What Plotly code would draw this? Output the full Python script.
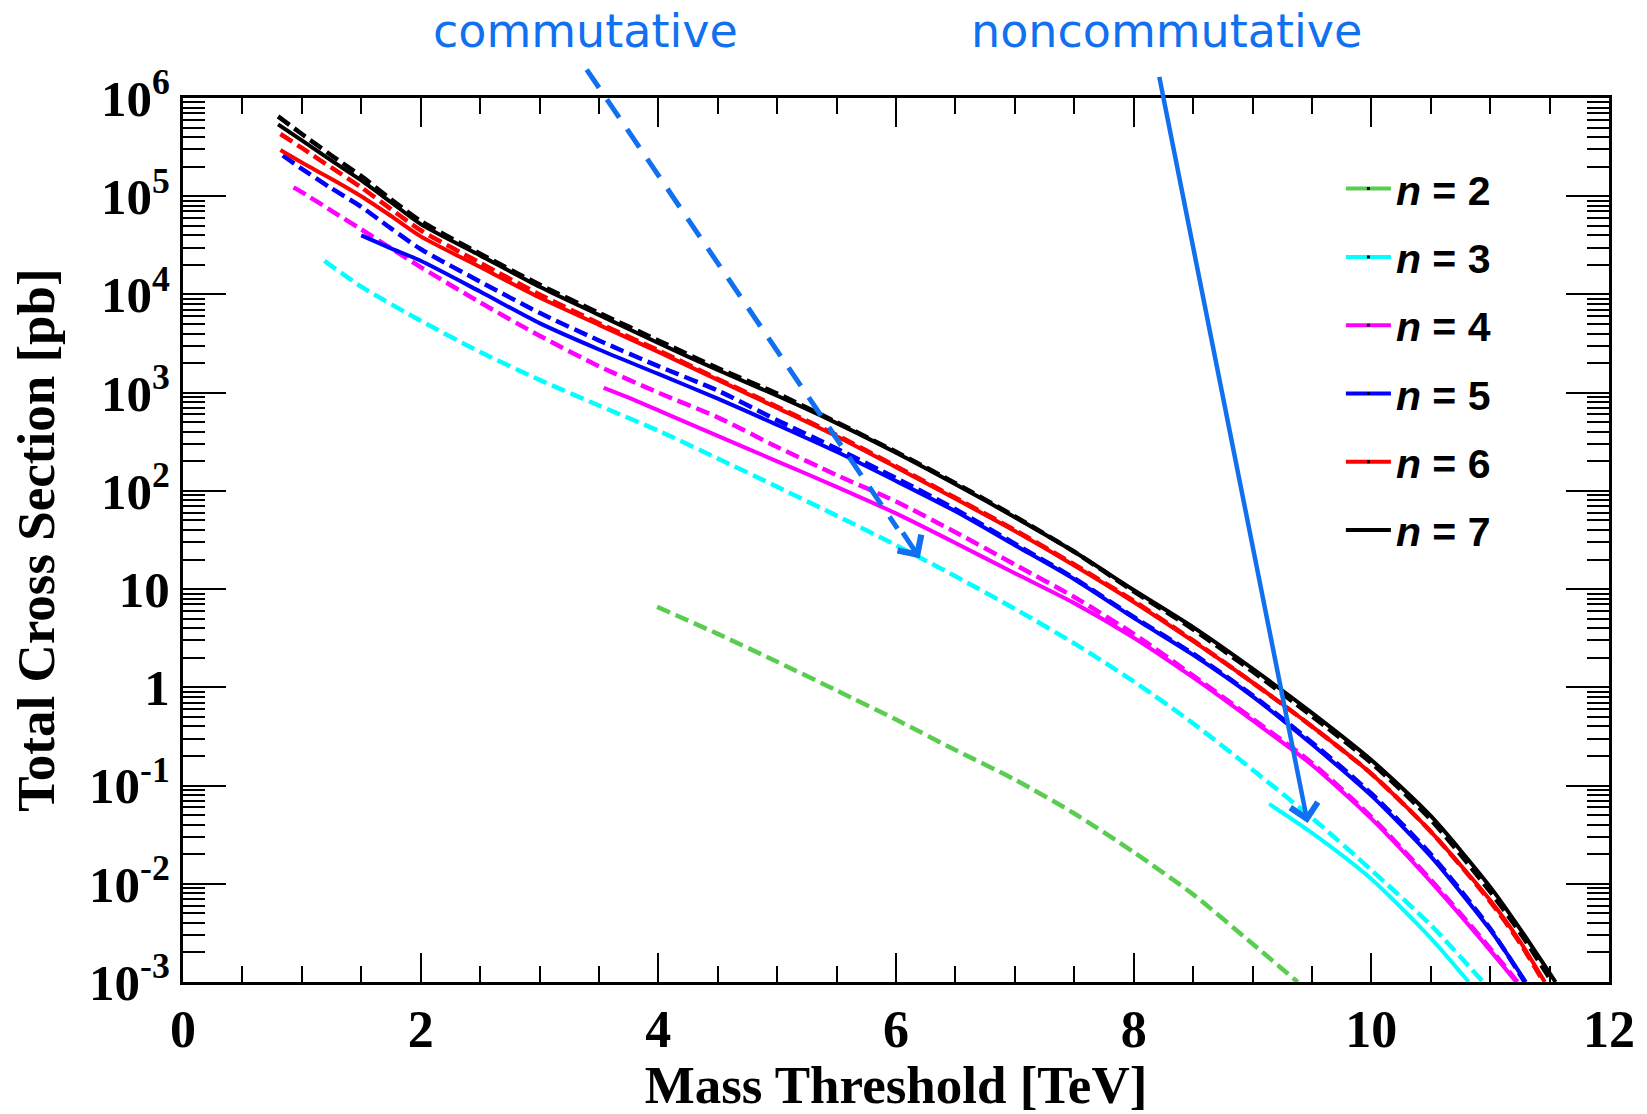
import plotly.graph_objects as go

# ---------------- data (cross sections in pb) ----------------
# n = 7
x_n7_comm = [0.8, 1.0, 1.25, 1.5, 1.75, 2.0, 2.5, 3.0, 3.5, 4.0, 4.5, 5.0, 5.5, 6.0, 6.5, 7.0, 7.5, 8.0, 8.5, 9.0, 9.5, 10.0, 10.5, 11.0, 11.25, 11.52]
y_n7_comm = [6.5e5, 4.3e5, 2.6e5, 1.6e5, 9.3e4, 5.6e4, 2.6e4, 1.26e4, 6.5e3, 3.4e3, 1.78e3, 980, 500, 250, 120, 55, 24, 9.5, 3.9, 1.45, 0.51, 0.17, 0.045, 0.0083, 0.0032, 0.001]
x_n7_nc = [0.8, 1.0, 1.25, 1.5, 1.75, 2.0, 2.5, 3.0, 3.5, 4.0, 4.5, 5.0, 5.5, 6.0, 6.5, 7.0, 7.5, 8.0, 8.5, 9.0, 9.5, 10.0, 10.5, 11.0, 11.25, 11.55]
y_n7_nc = [5.4e5, 3.7e5, 2.3e5, 1.45e5, 8.7e4, 5.2e4, 2.5e4, 1.2e4, 6.2e3, 3.2e3, 1.7e3, 930, 490, 245, 117, 54, 24, 9.8, 4.1, 1.55, 0.55, 0.182, 0.049, 0.0093, 0.0035, 0.001]
# n = 6
x_n6_comm = [0.82, 1.0, 1.25, 1.5, 1.75, 2.0, 2.5, 3.0, 3.5, 4.0, 4.5, 5.0, 5.5, 6.0, 6.5, 7.0, 7.5, 8.0, 8.5, 9.0, 9.5, 10.0, 10.5, 11.0, 11.25, 11.45]
y_n6_comm = [4.3e5, 3.1e5, 1.95e5, 1.23e5, 7.4e4, 4.5e4, 2.1e4, 1.0e4, 5.1e3, 2.7e3, 1.38e3, 720, 370, 178, 85, 40, 17.8, 7.6, 3.0, 1.12, 0.40, 0.132, 0.034, 0.0066, 0.0025, 0.001]
x_n6_nc = [0.82, 1.0, 1.25, 1.5, 1.75, 2.0, 2.5, 3.0, 3.5, 4.0, 4.5, 5.0, 5.5, 6.0, 6.5, 7.0, 7.5, 8.0, 8.5, 9.0, 9.5, 10.0, 10.5, 11.0, 11.25, 11.46]
y_n6_nc = [2.95e5, 2.2e5, 1.5e5, 1.0e5, 6.3e4, 3.9e4, 1.9e4, 9.3e3, 4.9e3, 2.6e3, 1.35e3, 700, 360, 174, 83, 39, 17.4, 7.4, 2.95, 1.12, 0.40, 0.132, 0.034, 0.0068, 0.0026, 0.001]
# n = 5
x_n5_comm = [0.84, 1.0, 1.25, 1.5, 1.75, 2.0, 2.5, 3.0, 3.5, 4.0, 4.5, 5.0, 5.5, 6.0, 6.5, 7.0, 7.5, 8.0, 8.5, 9.0, 9.5, 10.0, 10.5, 11.0, 11.29]
y_n5_comm = [2.6e5, 1.9e5, 1.2e5, 7.8e4, 4.7e4, 2.9e4, 1.35e4, 6.5e3, 3.4e3, 1.86e3, 1.05e3, 525, 270, 135, 65, 29, 12.9, 5.2, 2.2, 0.83, 0.275, 0.083, 0.020, 0.0035, 0.001]
x_n5_nc = [1.5, 1.75, 2.0, 2.5, 3.0, 3.5, 4.0, 4.5, 5.0, 5.5, 6.0, 6.5, 7.0, 7.5, 8.0, 8.5, 9.0, 9.5, 10.0, 10.5, 11.0, 11.3]
y_n5_nc = [4.0e4, 2.95e4, 2.2e4, 1.07e4, 5.1e3, 2.75e3, 1.55e3, 870, 470, 250, 126, 62, 28, 12.6, 5.1, 2.14, 0.81, 0.263, 0.079, 0.019, 0.0034, 0.001]
# n = 4
x_n4_comm = [0.93, 1.0, 1.25, 1.5, 1.75, 2.0, 2.5, 3.0, 3.5, 4.0, 4.5, 5.0, 5.5, 6.0, 6.5, 7.0, 7.5, 8.0, 8.5, 9.0, 9.5, 10.0, 10.5, 11.0, 11.23]
y_n4_comm = [1.23e5, 1.1e5, 7.1e4, 4.6e4, 2.95e4, 1.9e4, 8.3e3, 3.8e3, 1.86e3, 1.0e3, 560, 280, 145, 78, 38, 17.8, 8.3, 3.5, 1.32, 0.48, 0.17, 0.048, 0.011, 0.0022, 0.001]
x_n4_nc = [3.54, 3.75, 4.0, 4.5, 5.0, 5.5, 6.0, 6.5, 7.0, 7.5, 8.0, 8.5, 9.0, 9.5, 10.0, 10.5, 11.0, 11.22]
y_n4_nc = [1.12e3, 890, 660, 363, 200, 110, 59, 29.5, 14.5, 7.2, 3.2, 1.26, 0.46, 0.162, 0.046, 0.0105, 0.0021, 0.001]
# n = 3
x_n3_comm = [1.19, 1.5, 2.0, 2.5, 3.0, 3.5, 4.0, 4.5, 5.0, 5.5, 6.0, 6.5, 7.0, 7.5, 8.0, 8.5, 9.0, 9.5, 10.0, 10.5, 10.94]
y_n3_comm = [2.2e4, 1.2e4, 5.4e3, 2.6e3, 1.35e3, 740, 410, 214, 110, 56, 28, 13.5, 6.3, 2.8, 1.15, 0.43, 0.145, 0.047, 0.0138, 0.0038, 0.001]
x_n3_nc = [9.14, 9.5, 10.0, 10.5, 10.82]
y_n3_nc = [0.065, 0.033, 0.0112, 0.0028, 0.001]
# n = 2
x_n2_comm = [3.99, 4.5, 5.0, 5.5, 6.0, 6.5, 7.0, 7.5, 8.0, 8.5, 9.0, 9.38]
y_n2_comm = [6.6, 3.5, 1.82, 0.93, 0.47, 0.23, 0.115, 0.052, 0.021, 0.0078, 0.00245, 0.001]

legend_labels = ["<i>n</i> = 2", "<i>n</i> = 3", "<i>n</i> = 4", "<i>n</i> = 5", "<i>n</i> = 6", "<i>n</i> = 7"]

y_tickvals = [1e-3, 1e-2, 1e-1, 1, 10, 1e2, 1e3, 1e4, 1e5, 1e6]
y_ticktext = ["10<sup>-3</sup>", "10<sup>-2</sup>", "10<sup>-1</sup>", "1", "10",
              "10<sup>2</sup>", "10<sup>3</sup>", "10<sup>4</sup>", "10<sup>5</sup>", "10<sup>6</sup>"]
x_tickvals = [0, 2, 4, 6, 8, 10, 12]

# ---------------- styling ----------------
COL = {2: "#5ACC50", 3: "#00FFFF", 4: "#FF00FF", 5: "#0000FF", 6: "#FF0000", 7: "#000000"}
ARROW = "#1170F0"
DASH = "14px,6px"
W_DASH = 4.5
W_SOLID = 4
SMOOTH = 0.7

curves = {
    2: ((x_n2_comm, y_n2_comm), None),
    3: ((x_n3_comm, y_n3_comm), (x_n3_nc, y_n3_nc)),
    4: ((x_n4_comm, y_n4_comm), (x_n4_nc, y_n4_nc)),
    5: ((x_n5_comm, y_n5_comm), (x_n5_nc, y_n5_nc)),
    6: ((x_n6_comm, y_n6_comm), (x_n6_nc, y_n6_nc)),
    7: ((x_n7_comm, y_n7_comm), (x_n7_nc, y_n7_nc)),
}

fig = go.Figure()
for n in [2, 3, 4, 5, 6, 7]:
    comm, nc = curves[n]
    if nc is not None:
        fig.add_trace(go.Scatter(x=nc[0], y=nc[1], mode="lines", showlegend=False,
                                 line=dict(color=COL[n], width=W_SOLID, shape="spline", smoothing=SMOOTH),
                                 hoverinfo="skip"))
    fig.add_trace(go.Scatter(x=comm[0], y=comm[1], mode="lines", showlegend=False,
                             line=dict(color=COL[n], width=W_DASH, dash=DASH, shape="spline", smoothing=SMOOTH),
                             hoverinfo="skip"))

for i, n in enumerate([2, 3, 4, 5, 6, 7]):
    fig.add_trace(go.Scatter(x=[None], y=[None], mode="lines+markers", name=legend_labels[i],
                             legendgroup=f"g{n}",
                             line=dict(color=COL[n], width=4),
                             marker=dict(color="black", size=3, symbol="square")))

axis_common = dict(showline=True, linecolor="black", linewidth=3, mirror="ticks",
                   ticks="inside", tickcolor="black", tickwidth=2, showgrid=False, zeroline=False)

fig.update_xaxes(range=[0, 12], tickvals=x_tickvals, ticklen=29,
                 minor=dict(dtick=0.5, ticks="inside", ticklen=16, tickwidth=2, tickcolor="black"),
                 tickfont=dict(family="Liberation Serif", size=52, color="black", weight="bold"),
                 title=dict(text="Mass Threshold [TeV]", standoff=6,
                            font=dict(family="Liberation Serif", size=53, color="black", weight="bold")),
                 **axis_common)
fig.update_yaxes(type="log", range=[-3, 6], tickvals=y_tickvals, ticktext=y_ticktext, ticklen=43,
                 minor=dict(dtick="D1", ticks="inside", ticklen=22, tickwidth=2, tickcolor="black"),
                 tickfont=dict(family="Liberation Serif", size=51, color="black", weight="bold"),
                 title=dict(text="Total Cross Section [pb]", standoff=18,
                            font=dict(family="Liberation Serif", size=53, color="black", weight="bold")),
                 **axis_common)

fig.update_layout(
    width=1647, height=1114,
    margin=dict(l=183, r=37, t=98, b=115),
    paper_bgcolor="white", plot_bgcolor="white",
    legend=dict(x=0.812, y=0.935, xanchor="left", yanchor="top", bgcolor="rgba(0,0,0,0)",
                font=dict(family="Liberation Sans", size=41, color="black", weight="bold"),
                tracegroupgap=12, itemwidth=45),
)

# commutative: dashed arrow (dashed body as a shape, head as annotation)
fig.add_shape(type="line", xref="paper", yref="paper", x0=0.2831, y0=1.0322, x1=0.5011, y1=0.5128,
              line=dict(color=ARROW, width=5, dash="22px,14px"), layer="above")
fig.add_annotation(x=6.20, y=1.315, xref="x", yref="y", axref="pixel", ayref="pixel",
                   ax=-18, ay=-27, text="", showarrow=True, arrowhead=4, arrowsize=1.1,
                   arrowwidth=5, arrowcolor=ARROW)
# noncommutative: solid arrow
fig.add_annotation(x=9.464, y=-1.38, xref="x", yref="y", axref="x", ayref="y",
                   ax=8.213, ay=6.23, text="", showarrow=True, arrowhead=4, arrowsize=1.2,
                   arrowwidth=4.5, arrowcolor=ARROW)

fig.add_annotation(x=0.2824, y=1.0755, xref="paper", yref="paper", text="commutative",
                   showarrow=False, xanchor="center", yanchor="middle",
                   font=dict(family="DejaVu Sans", size=46, color=ARROW))
fig.add_annotation(x=0.690, y=1.0755, xref="paper", yref="paper", text="noncommutative",
                   showarrow=False, xanchor="center", yanchor="middle",
                   font=dict(family="DejaVu Sans", size=46, color=ARROW))

fig.write_html("out.html")
